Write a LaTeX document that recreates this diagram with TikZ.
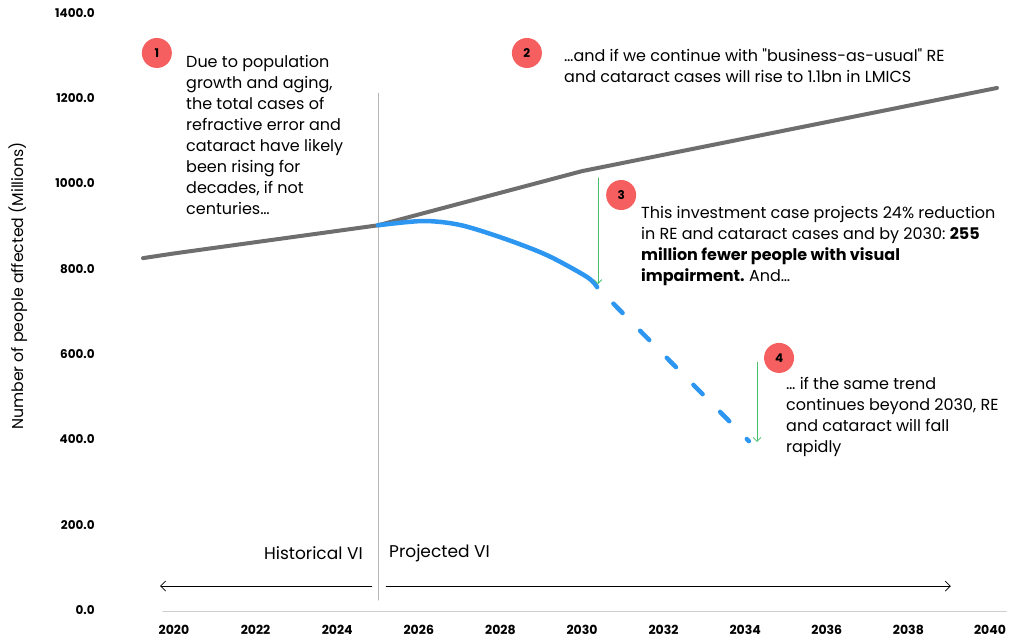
\documentclass[tikz,border=0pt]{standalone}
\usepackage{fontspec}
\setmainfont{Poppins}
\usetikzlibrary{arrows.meta}
\definecolor{trendgray}{RGB}{110,110,110}
\definecolor{viblue}{RGB}{45,150,240}
\definecolor{markred}{RGB}{245,95,95}
\definecolor{dropgreen}{RGB}{70,190,110}
\definecolor{rulegray}{RGB}{205,205,205}
\tikzset{
  marker/.style={circle,fill=markred,minimum size=30pt,inner sep=0pt,font=\fontsize{12}{12}\selectfont\bfseries},
  note/.style={anchor=north west,align=left,inner sep=0pt,font=\fontsize{16}{21}\selectfont\frenchspacing},
  ticklab/.style={anchor=east,inner sep=0pt,font=\fontsize{12}{12}\selectfont\bfseries},
  yearlab/.style={inner sep=0pt,font=\fontsize{12.5}{12.5}\selectfont\bfseries},
  drop/.style={dropgreen,line width=0.8pt,-{Straight Barb[length=4pt,width=8pt]}},
}
\begin{document}
\begin{tikzpicture}[x=40.8pt,y=0.4265pt,line join=round,line cap=round,>={Straight Barb[length=5pt,width=10pt]}]
	\useasboundingbox (-4.2647,-70.34) rectangle (20.515,1430.25);
	% axes
	\draw[rulegray,line width=1.2pt] (-0.27,-3)--(20.4,-3);
	\foreach \v in {0,200,...,1400}
		\node[ticklab] (tick\v) at (-1.94,\v) {\v.0};
	\foreach \yr in {0,2,...,20}
		\node[yearlab] (yr\yr) at (\yr,-47) {\the\numexpr2020+\yr\relax};
	\node[rotate=90,font=\fontsize{15.7}{15.7}\selectfont] (ylab) at (-3.82,760) {Number of people affected (Millions)};
	% historical / projected split
	\coordinate (divtop) at (5,1212);
	\coordinate (divbot) at (5,23);
	\draw[rulegray!70!gray,line width=0.6pt] (divtop)--(divbot);
	\node[anchor=east,inner sep=0pt,font=\fontsize{17}{17}\selectfont] (hist) at (4.63,134) {Historical VI};
	\node[anchor=west,inner sep=0pt,font=\fontsize{17}{17}\selectfont] (proj) at (5.27,134) {Projected VI};
	\coordinate (histR) at (4.85,56);
	\coordinate (histL) at (-0.34,56);
	\coordinate (projL) at (5.2,56);
	\coordinate (projR) at (19.04,56);
	\draw[->,line width=0.7pt] (histR)--(histL);
	\draw[->,line width=0.7pt] (projL)--(projR);
	% curves
	\draw[trendgray,line width=4pt] plot coordinates {(-0.76,825) (0,836) (5,902) (10,1029) (20.17,1224)};
	\draw[viblue,line width=4.5pt] plot[smooth] coordinates {(5,902) (6.1,912) (7,903) (8.06,872) (9.14,832) (10.12,781) (10.37,757)};
	\draw[viblue,line width=4.5pt,dash pattern=on 13pt off 25pt,dash phase=14.75pt] (10.37,757)--(14.09,396);
	% drops
	\coordinate (drop3top) at (10.39,1013);
	\coordinate (drop3bot) at (10.39,764);
	\draw[drop] (drop3top)--(drop3bot);
	\coordinate (drop4top) at (14.29,581);
	\coordinate (drop4bot) at (14.29,394);
	\draw[drop] (drop4top)--(drop4bot);
	% markers and notes
	\node[marker] (m1) at (-0.42,1306) {1};
	\node[marker] (m2) at (8.65,1306) {2};
	\node[marker] (m3) at (10.96,973) {3};
	\node[marker] (m4) at (14.83,591) {4};
	\node[note] (note1) at (0.294,1300) {Due to population\\growth and aging,\\the total cases of\\refractive error and\\cataract have likely\\been rising for\\decades, if not\\centuries…};
	\node[note] (note2) at (9.559,1317) {…and if we continue with \textquotedbl business-as-usual\textquotedbl{} RE\\and cataract cases will rise to 1.1bn in LMICS};
	\node[note] (note3) at (11.446,948) {This investment case projects 24\% reduction\\in RE and cataract cases and by 2030: \textbf{255}\\\textbf{million fewer people with visual}\\\textbf{impairment.} And…};
	\node[note] (note4) at (15,545) {… if the same trend\\continues beyond 2030, RE\\and cataract will fall\\rapidly};
\end{tikzpicture}
\end{document}
